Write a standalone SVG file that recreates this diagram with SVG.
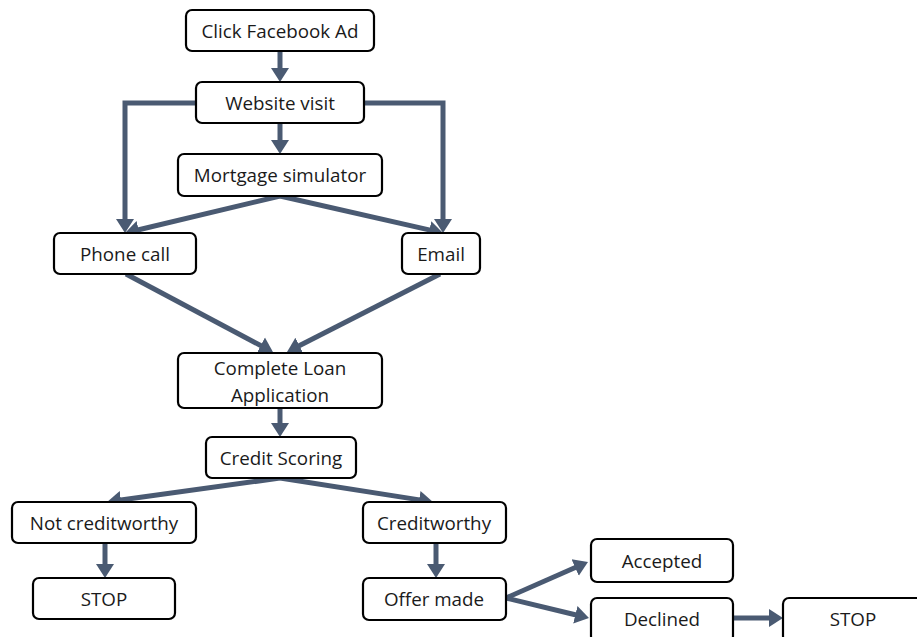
<svg xmlns="http://www.w3.org/2000/svg" width="917" height="637" viewBox="0 0 917 637">
<style>
.box{fill:#fff;stroke:#000;stroke-width:2.2}
.t{font-family:"Open Sans","Liberation Sans",sans-serif;font-size:18.8px;fill:#1a1a1a;text-anchor:middle;dominant-baseline:central}
.c{fill:none;stroke:#4a5a72;stroke-width:5;marker-end:url(#ah)}
</style>
<defs>
<marker id="ah" markerUnits="userSpaceOnUse" markerWidth="16" markerHeight="20" refX="2" refY="10" orient="auto">
<path d="M0,1 L14,10 L0,19 z" fill="#4a5a72"/>
</marker>
</defs>
<rect width="917" height="637" fill="#fff"/>
<g id="connectors">
<line class="c" x1="280" y1="51" x2="280" y2="70"/>
<line class="c" x1="280" y1="123" x2="280" y2="142"/>
<path class="c" d="M196,103 H125 V221"/>
<path class="c" d="M364,103 H443 V221"/>
<line class="c" x1="280" y1="196" x2="136.7" y2="230.2"/>
<line class="c" x1="280" y1="196" x2="431.3" y2="230.4"/>
<line class="c" x1="126" y1="274" x2="262.5" y2="346.5"/>
<line class="c" x1="440" y1="274" x2="297.7" y2="346.6"/>
<line class="c" x1="280" y1="408" x2="280" y2="425"/>
<line class="c" x1="280" y1="478" x2="119" y2="500.3"/>
<line class="c" x1="280" y1="478" x2="421.1" y2="500.1"/>
<line class="c" x1="105" y1="543" x2="105" y2="566"/>
<line class="c" x1="436" y1="543" x2="436" y2="566"/>
<line class="c" x1="506" y1="598" x2="577" y2="566.8"/>
<line class="c" x1="506" y1="598" x2="577.3" y2="615.2"/>
<line class="c" x1="733" y1="618" x2="771" y2="618"/>
</g>
<g id="click-ad"><rect class="box" x="186" y="10" width="188" height="41" rx="6"/><text class="t" x="280" y="31">Click Facebook Ad</text></g>
<g id="website"><rect class="box" x="196" y="82" width="168" height="41" rx="6"/><text class="t" x="280" y="103">Website visit</text></g>
<g id="mortgage"><rect class="box" x="178" y="154" width="204" height="42" rx="6"/><text class="t" x="280" y="175">Mortgage simulator</text></g>
<g id="phone"><rect class="box" x="54" y="233" width="142" height="41" rx="6"/><text class="t" x="125" y="254">Phone call</text></g>
<g id="email"><rect class="box" x="402" y="233" width="78" height="41" rx="6"/><text class="t" x="441" y="254">Email</text></g>
<g id="loan-app"><rect class="box" x="178" y="353" width="204" height="55" rx="6"/><text class="t" x="280" y="368">Complete Loan</text><text class="t" x="280" y="395">Application</text></g>
<g id="credit-scoring"><rect class="box" x="206" y="437" width="150" height="41" rx="6"/><text class="t" x="281" y="458">Credit Scoring</text></g>
<g id="not-creditworthy"><rect class="box" x="12" y="502" width="184" height="41" rx="6"/><text class="t" x="104" y="523">Not creditworthy</text></g>
<g id="stop-left"><rect class="box" x="33" y="578" width="142" height="41" rx="6"/><text class="t" x="104" y="599">STOP</text></g>
<g id="creditworthy"><rect class="box" x="363" y="502" width="143" height="41" rx="6"/><text class="t" x="434" y="523">Creditworthy</text></g>
<g id="offer"><rect class="box" x="363" y="578" width="143" height="42" rx="6"/><text class="t" x="434" y="599">Offer made</text></g>
<g id="accepted"><rect class="box" x="591" y="539" width="142" height="43" rx="6"/><text class="t" x="662" y="561">Accepted</text></g>
<g id="declined"><rect class="box" x="591" y="598" width="142" height="44" rx="6"/><text class="t" x="662" y="619">Declined</text></g>
<g id="stop-right"><rect class="box" x="783" y="598" width="142" height="44" rx="6"/><text class="t" x="853" y="619">STOP</text></g>
</svg>
